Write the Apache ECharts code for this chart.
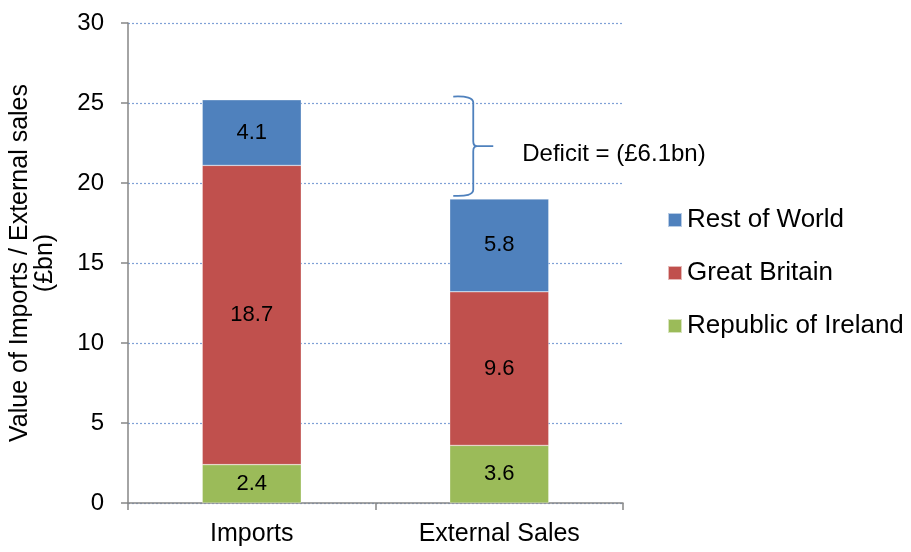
<!DOCTYPE html>
<html>
<head>
<meta charset="utf-8">
<script src="https://cdn.jsdelivr.net/npm/echarts@6/dist/echarts.min.js"></script>
<style>
  html, body { margin: 0; padding: 0; background: #fff; }
  #main { width: 911px; height: 552px; }
</style>
</head>
<body>
<div id="main"></div>
<script>
var categories = ['Imports', 'External Sales'];
var ireland = [2.4, 3.6];
var britain = [18.7, 9.6];
var restOfWorld = [4.1, 5.8];
var yTicks = [0, 5, 10, 15, 20, 25, 30];
// brace spans roughly from the top of imports to the top of external sales
var brace = [[1, 25.4, 19.2]];
var braceText = 'Deficit = (£6.1bn)';

var font = 'Liberation Sans, Arial, sans-serif';

var myChart = echarts.init(document.getElementById('main'));

function barSeries(name, data, color) {
    return {
        name: name,
        type: 'bar',
        stack: 'total',
        data: data,
        barWidth: '40%',
        itemStyle: { color: color, borderColor: 'rgba(255,255,255,0.6)', borderWidth: 0.5 },
        label: {
            show: true,
            position: 'inside',
            color: '#000',
            fontSize: 22,
            fontFamily: font
        }
    };
}

function renderBrace(params, api) {
    var xc = api.coord([api.value(0), api.value(1)])[0];
    var x = xc - 26;
    var yTop = api.coord([api.value(0), api.value(1)])[1];
    var yBot = api.coord([api.value(0), api.value(2)])[1];
    var yMid = (yTop + yBot) / 2;
    var path = 'M' + (x - 20) + ' ' + yTop +
        ' Q' + x + ' ' + (yTop - 1) + ' ' + x + ' ' + (yTop + 6) +
        ' L' + x + ' ' + (yMid - 5) +
        ' Q' + x + ' ' + yMid + ' ' + (x + 4) + ' ' + yMid +
        ' L' + (x + 20) + ' ' + yMid +
        ' M' + (x + 4) + ' ' + yMid +
        ' Q' + x + ' ' + yMid + ' ' + x + ' ' + (yMid + 5) +
        ' L' + x + ' ' + (yBot - 6) +
        ' Q' + x + ' ' + (yBot + 1) + ' ' + (x - 20) + ' ' + yBot;
    return {
        type: 'group',
        children: [{
            type: 'path',
            shape: { pathData: path },
            style: { fill: 'none', stroke: '#4F81BD', lineWidth: 1.8 }
        }, {
            type: 'text',
            x: x + 49,
            y: yMid + 8,
            style: {
                text: braceText,
                fill: '#000',
                font: '24px ' + font,
                textVerticalAlign: 'middle'
            }
        }]
    };
}

var option = {
    animation: false,
    backgroundColor: '#fff',
    grid: { left: 128, right: 288, top: 23, bottom: 49, outerBoundsMode: 'none', containLabel: false },
    legend: {
        orient: 'vertical',
        left: 662,
        top: 201,
        itemWidth: 14,
        itemHeight: 14,
        itemGap: 25,
        icon: 'rect',
        data: ['Rest of World', 'Great Britain', 'Republic of Ireland'],
        textStyle: { color: '#000', fontSize: 26, fontFamily: font, lineHeight: 28 }
    },
    xAxis: {
        type: 'category',
        data: categories,
        axisLine: { lineStyle: { color: '#868686', width: 1.5 } },
        axisTick: { show: true, length: 7, lineStyle: { color: '#868686', width: 1.5 } },
        axisLabel: { color: '#000', fontSize: 25, fontFamily: font, margin: 19 }
    },
    yAxis: {
        type: 'value',
        min: yTicks[0],
        max: yTicks[yTicks.length - 1],
        interval: 5,
        name: 'Value of Imports / External sales\n(£bn)',
        nameLocation: 'middle',
        nameGap: 70,
        nameMoveOverlap: false,
        nameTextStyle: { color: '#000', fontSize: 25, fontFamily: font, lineHeight: 25 },
        axisLine: { show: true, lineStyle: { color: '#868686', width: 1.5 } },
        axisTick: { show: true, length: 7, lineStyle: { color: '#868686', width: 1.5 } },
        axisLabel: { color: '#000', fontSize: 24, fontFamily: font, margin: 24 },
        splitLine: { lineStyle: { color: '#7FA1D6', type: [2, 2], width: 1.2 } }
    },
    series: [
        barSeries('Republic of Ireland', ireland, '#9BBB59'),
        barSeries('Great Britain', britain, '#C0504D'),
        barSeries('Rest of World', restOfWorld, '#4F81BD'),
        {
            type: 'custom',
            renderItem: renderBrace,
            data: brace,
            clip: false,
            silent: true,
            z: 5
        }
    ]
};

myChart.setOption(option);
</script>
</body>
</html>
